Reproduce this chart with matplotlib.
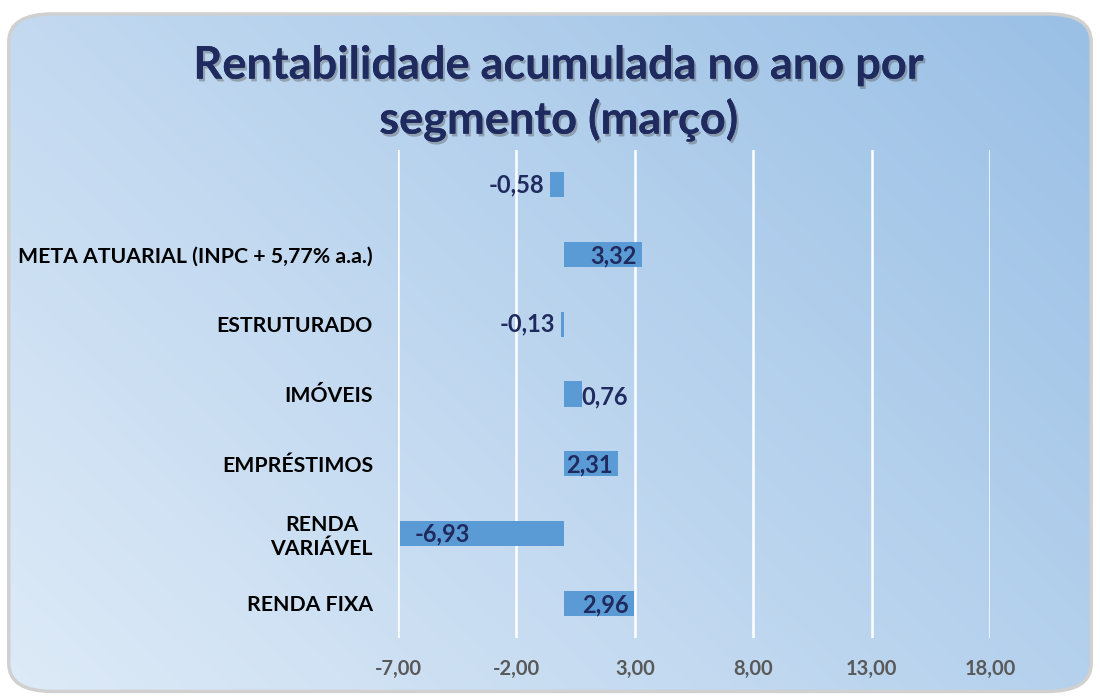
import numpy as np
import matplotlib.pyplot as plt
from matplotlib.patches import FancyBboxPatch
import matplotlib.patheffects as pe

plt.rcParams['font.family'] = ['Lato', 'DejaVu Sans']

categories = ['RENDA FIXA', 'RENDA\nVARIÁVEL', 'EMPRÉSTIMOS', 'IMÓVEIS',
              'ESTRUTURADO', 'META ATUARIAL (INPC + 5,77% a.a.)', '']
values = [2.96, -6.93, 2.31, 0.76, -0.13, 3.32, -0.58]
value_labels = ['2,96', '-6,93', '2,31', '0,76', '-0,13', '3,32', '-0,58']
xticks = [-7, -2, 3, 8, 13, 18]
xtick_labels = ['-7,00', '-2,00', '3,00', '8,00', '13,00', '18,00']

title = 'Rentabilidade acumulada no ano por\nsegmento (março)'
navy = '#1F2A5E'
bar_color = '#5B9BD5'


def draw_background(fig):
    bg = fig.add_axes([0, 0, 1, 1], zorder=-10)
    bg.set_xlim(0, 1)
    bg.set_ylim(0, 1)
    bg.axis('off')
    # diagonal gradient: light bottom-left, darker top-right
    n = 300
    xx, yy = np.meshgrid(np.linspace(0, 1, n), np.linspace(0, 1, n))
    t = (xx * 0.6 + yy * 0.4)
    c0 = np.array([0.87, 0.92, 0.97])
    c1 = np.array([0.60, 0.75, 0.90])
    img = c0 + (c1 - c0) * t[..., None]
    box = FancyBboxPatch((0.008, 0.008), 0.984, 0.972,
                         boxstyle='round,pad=0,rounding_size=0.04',
                         transform=bg.transAxes, facecolor='none',
                         edgecolor='#D0D0D0', linewidth=2.5, zorder=2)
    bg.add_patch(box)
    im = bg.imshow(img, extent=[0, 1, 0, 1], origin='lower', aspect='auto', zorder=1)
    im.set_clip_path(box)


def main():
    fig = plt.figure(figsize=(11, 6.97), dpi=100)
    fig.patch.set_facecolor('white')
    draw_background(fig)

    ax = fig.add_axes([398 / 1100, 1 - 638 / 697, (990 - 398) / 1100, (638 - 150) / 697])
    ax.patch.set_alpha(0)
    y = np.arange(len(categories))
    ax.barh(y, values, height=0.36, color=bar_color, zorder=3)
    ax.set_xlim(-7, 18)
    ax.set_ylim(-0.5, len(categories) - 0.5)
    ax.set_xticks(xticks)
    ax.set_xticklabels(xtick_labels, fontsize=14.5, fontweight='bold', color='#595959')
    ax.set_yticks(y)
    ax.set_yticklabels(categories, fontsize=15.3, fontweight='bold', color='black',
                       multialignment='center')
    ax.tick_params(axis='both', length=0)
    ax.tick_params(axis='y', pad=18)
    ax.tick_params(axis='x', pad=15)
    ax.grid(axis='x', color='white', linewidth=1.8, zorder=1)
    for s in ax.spines.values():
        s.set_visible(False)

    fs = 17
    for yi, v, lab in zip(y, values, value_labels):
        if abs(v) >= 2:
            if v > 0:
                ax.annotate(lab, (v, yi), xytext=(-4, -1), textcoords='offset points',
                            ha='right', va='center', fontsize=fs, fontweight='bold',
                            color=navy, zorder=4)
            else:
                ax.annotate(lab, (v, yi), xytext=(11, 0), textcoords='offset points',
                            ha='left', va='center', fontsize=fs, fontweight='bold',
                            color=navy, zorder=4)
        else:
            off = 0 if v > 0 else -4
            ax.annotate(lab, (v, yi), xytext=(off, 0 if v < 0 else -2),
                        textcoords='offset points', ha='left' if v > 0 else 'right',
                        va='center', fontsize=fs, fontweight='bold', color=navy, zorder=4)

    fig.text(0.508, 0.866, title, ha='center', va='center', fontsize=32.5,
             fontweight='bold', color=navy, linespacing=1.3,
             path_effects=[pe.withSimplePatchShadow(offset=(1.5, -2), shadow_rgbFace='#555555', alpha=0.4),
                           pe.Normal()])

    fig.savefig('out.png', dpi=100)


if __name__ == '__main__':
    main()
